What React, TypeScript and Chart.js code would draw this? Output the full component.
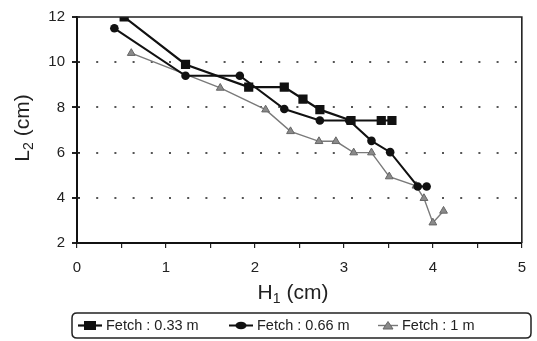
import React, { useEffect, useRef } from 'react';
import { Chart, registerables } from 'chart.js';
Chart.register(...registerables);

// Fetch : 0.33 m
const h033 = [0.53, 1.22, 1.93, 2.33, 2.54, 2.73, 3.08, 3.42, 3.54];
const l033 = [12.0, 9.9, 8.9, 8.9, 8.37, 7.9, 7.42, 7.42, 7.42];
// Fetch : 0.66 m
const h066 = [0.42, 1.22, 1.83, 2.33, 2.73, 3.06, 3.31, 3.52, 3.83, 3.93];
const l066 = [11.5, 9.4, 9.4, 7.93, 7.42, 7.42, 6.52, 6.02, 4.5, 4.5];
// Fetch : 1 m
const h1 = [0.61, 1.61, 2.12, 2.4, 2.72, 2.91, 3.11, 3.31, 3.51, 3.81, 3.9, 4.0, 4.12];
const l1 = [10.4, 8.86, 7.9, 6.94, 6.5, 6.5, 6.0, 6.0, 4.94, 4.53, 3.98, 2.9, 3.42];

const seriesNames = ['Fetch : 0.33 m', 'Fetch : 0.66 m', 'Fetch : 1 m'];
const xTicks = [0, 1, 2, 3, 4, 5];
const yTicks = [2, 4, 6, 8, 10, 12];

const FONT = '"Liberation Sans", Arial, sans-serif';

const toPts = (xs: number[], ys: number[]) => xs.map((x, i) => ({ x, y: ys[i] }));

function drawMarker(ctx: CanvasRenderingContext2D, kind: number, x: number, y: number) {
  ctx.save();
  if (kind === 0) {
    ctx.fillStyle = '#111';
    ctx.fillRect(x - 6, y - 4.5, 12, 9);
  } else if (kind === 1) {
    ctx.fillStyle = '#111';
    ctx.beginPath();
    ctx.ellipse(x, y, 5.5, 3.8, 0, 0, Math.PI * 2);
    ctx.fill();
  } else {
    ctx.fillStyle = '#8a8a8a';
    ctx.strokeStyle = '#666';
    ctx.lineWidth = 1;
    ctx.beginPath();
    ctx.moveTo(x, y - 4);
    ctx.lineTo(x + 5, y + 3.5);
    ctx.lineTo(x - 5, y + 3.5);
    ctx.closePath();
    ctx.fill();
    ctx.stroke();
  }
  ctx.restore();
}

const decorPlugin = {
  id: 'decor',
  afterDraw(chart: any) {
    const ctx: CanvasRenderingContext2D = chart.ctx;
    const a = chart.chartArea;
    ctx.save();
    // top and right frame
    ctx.strokeStyle = '#222';
    ctx.lineWidth = 1.6;
    ctx.beginPath();
    ctx.moveTo(a.left, a.top);
    ctx.lineTo(a.right, a.top);
    ctx.lineTo(a.right, a.bottom);
    ctx.stroke();

    // y tick marks crossing the axis (inner part)
    const ys = chart.scales.y;
    ctx.lineWidth = 1.2;
    yTicks.forEach((v) => {
      const py = ys.getPixelForValue(v);
      ctx.beginPath();
      ctx.moveTo(a.left, py);
      ctx.lineTo(a.left + 3, py);
      ctx.stroke();
    });

    ctx.fillStyle = '#222';
    ctx.textBaseline = 'alphabetic';
    const big = `21px ${FONT}`;
    const small = `14px ${FONT}`;
    // X title: H1 (cm)
    ctx.font = big;
    const wH = ctx.measureText('H').width;
    const wRest = ctx.measureText(' (cm)').width;
    ctx.font = small;
    const w1 = ctx.measureText('1').width;
    const x0 = 293 - (wH + w1 + wRest) / 2;
    const by = 299;
    ctx.font = big;
    ctx.textAlign = 'left';
    ctx.fillText('H', x0, by);
    ctx.font = small;
    ctx.fillText('1', x0 + wH, by + 4);
    ctx.font = big;
    ctx.fillText(' (cm)', x0 + wH + w1, by);

    // Y title: L2 (cm), rotated
    ctx.save();
    ctx.translate(29, 128);
    ctx.rotate(-Math.PI / 2);
    ctx.font = big;
    const wL = ctx.measureText('L').width;
    ctx.font = small;
    const w2 = ctx.measureText('2').width;
    const y0 = -(wL + w2 + wRest) / 2;
    ctx.font = big;
    ctx.fillText('L', y0, 0);
    ctx.font = small;
    ctx.fillText('2', y0 + wL, 4);
    ctx.font = big;
    ctx.fillText(' (cm)', y0 + wL + w2, 0);
    ctx.restore();

    // Legend box
    const lx = 72, ly = 313, lw = 459, lh = 25, r = 5;
    ctx.strokeStyle = '#222';
    ctx.lineWidth = 1.5;
    ctx.beginPath();
    ctx.moveTo(lx + r, ly);
    ctx.lineTo(lx + lw - r, ly);
    ctx.quadraticCurveTo(lx + lw, ly, lx + lw, ly + r);
    ctx.lineTo(lx + lw, ly + lh - r);
    ctx.quadraticCurveTo(lx + lw, ly + lh, lx + lw - r, ly + lh);
    ctx.lineTo(lx + r, ly + lh);
    ctx.quadraticCurveTo(lx, ly + lh, lx, ly + lh - r);
    ctx.lineTo(lx, ly + r);
    ctx.quadraticCurveTo(lx, ly, lx + r, ly);
    ctx.stroke();

    const items = [
      { x1: 78, x2: 102, tx: 106, color: '#111', w: 2.2 },
      { x1: 229, x2: 253, tx: 257, color: '#111', w: 2 },
      { x1: 378, x2: 398, tx: 402, color: '#777', w: 1.4 },
    ];
    const cy = 325.5;
    items.forEach((it, i) => {
      ctx.strokeStyle = it.color;
      ctx.lineWidth = it.w;
      ctx.beginPath();
      ctx.moveTo(it.x1, cy);
      ctx.lineTo(it.x2, cy);
      ctx.stroke();
      drawMarker(ctx, i, (it.x1 + it.x2) / 2, cy);
      ctx.fillStyle = '#222';
      ctx.font = `14.5px ${FONT}`;
      ctx.textAlign = 'left';
      ctx.textBaseline = 'middle';
      ctx.fillText(seriesNames[i], it.tx, cy);
    });
    ctx.restore();
  },
};

export default function App() {
  const ref = useRef<HTMLCanvasElement | null>(null);
  useEffect(() => {
    if (!ref.current) return;
    const chart = new Chart(ref.current, {
      type: 'scatter',
      data: {
        datasets: [
          {
            label: seriesNames[0],
            data: toPts(h033, l033),
            showLine: true,
            borderColor: '#111',
            backgroundColor: '#111',
            borderWidth: 2.2,
            pointStyle: 'rect',
            pointRadius: 6.5,
            pointBorderWidth: 0,
          },
          {
            label: seriesNames[1],
            data: toPts(h066, l066),
            showLine: true,
            borderColor: '#111',
            backgroundColor: '#111',
            borderWidth: 2,
            pointStyle: 'circle',
            pointRadius: 4.3,
            pointBorderWidth: 0,
          },
          {
            label: seriesNames[2],
            data: toPts(h1, l1),
            showLine: true,
            borderColor: '#7a7a7a',
            backgroundColor: '#8a8a8a',
            borderWidth: 1.4,
            pointStyle: 'triangle',
            pointRadius: 4.5,
            pointBorderColor: '#666',
            pointBorderWidth: 1,
          },
        ],
      },
      options: {
        responsive: false,
        animation: false,
        devicePixelRatio: 1,
        layout: { padding: { left: 0, top: 17, right: 3, bottom: 0 } },
        plugins: { legend: { display: false }, tooltip: { enabled: false } },
        scales: {
          x: {
            type: 'linear',
            min: 0,
            max: 5,
            afterFit: (s: any) => { s.height = 98; },
            afterBuildTicks: (s: any) => {
              const t: any[] = [];
              for (let v = 0; v <= 10; v++) t.push({ value: v / 2 });
              s.ticks = t;
            },
            ticks: {
              autoSkip: false,
              maxRotation: 0,
              padding: 11,
              color: '#222',
              font: { family: FONT, size: 15 },
              callback: (v: any) => (xTicks.includes(Number(v)) ? String(v) : ''),
            },
            border: { display: true, color: '#111', width: 2 },
            grid: { drawOnChartArea: false, drawTicks: true, tickLength: 5, color: '#222', lineWidth: 1.2 },
          },
          y: {
            type: 'linear',
            min: 2,
            max: 12,
            afterFit: (s: any) => { s.width = 77; },
            afterBuildTicks: (s: any) => { s.ticks = yTicks.map((v) => ({ value: v })); },
            ticks: {
              padding: 7,
              color: '#222',
              font: { family: FONT, size: 15 },
            },
            border: { display: true, color: '#111', width: 2, dash: [2, 16.2] },
            grid: {
              drawTicks: true,
              tickLength: 5,
              tickColor: '#222',
              lineWidth: 2,
              color: (c: any) => (c.tick && (c.tick.value === 2 || c.tick.value === 12) ? 'rgba(0,0,0,0)' : '#555'),
            },
          },
        },
      },
      plugins: [decorPlugin],
    } as any);
    return () => chart.destroy();
  }, []);
  return (
    <div style={{ position: 'fixed', left: 0, top: 0, width: 537, height: 341, background: '#fff' }}>
      <canvas ref={ref} width={537} height={341} />
    </div>
  );
}
